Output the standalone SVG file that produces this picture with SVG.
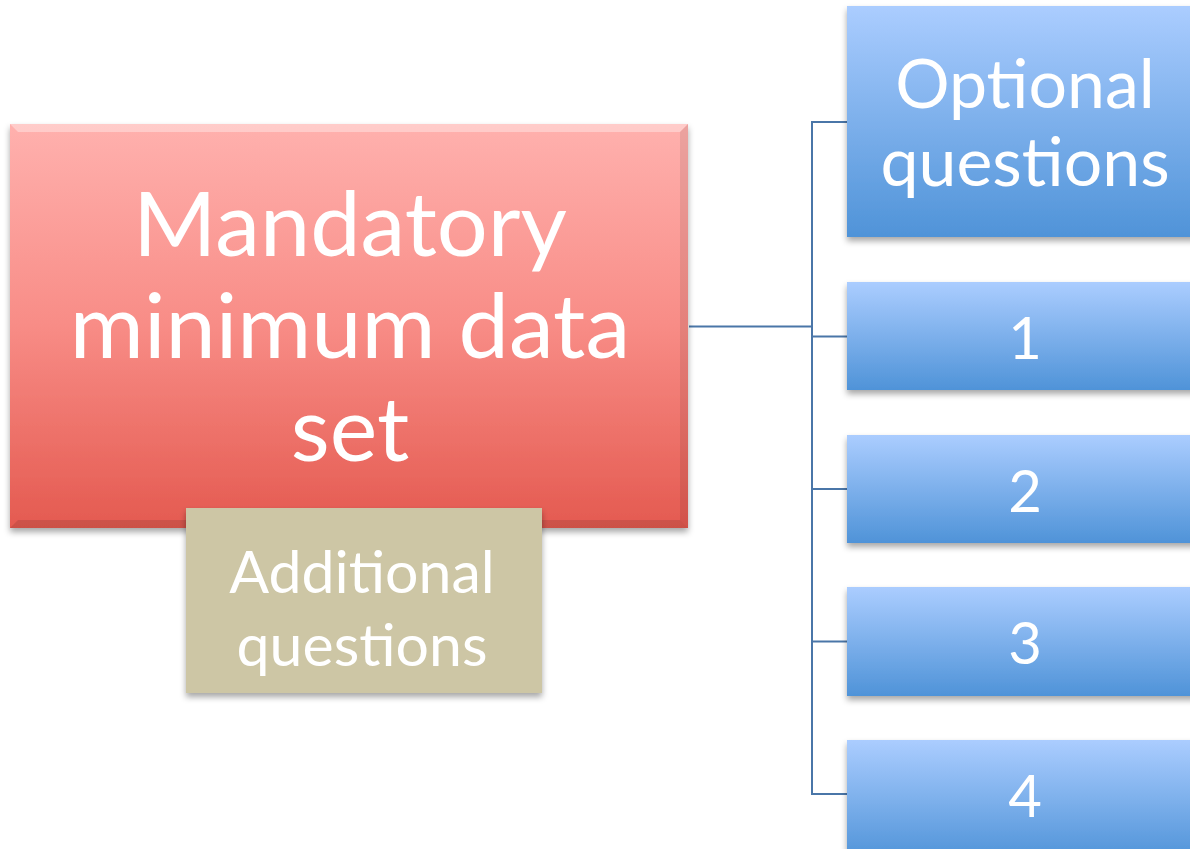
<svg xmlns="http://www.w3.org/2000/svg" width="1190" height="849" viewBox="0 0 1190 849">
  <defs>
    <linearGradient id="gRed" x1="0" y1="0" x2="0" y2="1">
      <stop offset="0" stop-color="#ffb1ae"/>
      <stop offset="0.5" stop-color="#f88c86"/>
      <stop offset="1" stop-color="#e45a50"/>
    </linearGradient>
    <linearGradient id="gBlue" x1="0" y1="0" x2="0" y2="1">
      <stop offset="0" stop-color="#abcdff"/>
      <stop offset="1" stop-color="#4f93d8"/>
    </linearGradient>
    <filter id="shadow" x="-10%" y="-10%" width="120%" height="130%">
      <feDropShadow dx="0" dy="4" stdDeviation="3" flood-color="#000" flood-opacity="0.35"/>
    </filter>
  </defs>
  <style>
    .conn { fill: none; stroke: #4a76a8; stroke-width: 2; }
    .lbl { fill: #ffffff; font-family: Lato, "Open Sans", sans-serif; text-anchor: middle; }
  </style>
  <rect width="1190" height="849" fill="#ffffff"/>

  <g id="connectors">
    <path class="conn" d="M689 326.5 H812"/>
    <path class="conn" d="M847 122 H812 V794 H847"/>
    <path class="conn" d="M812 336.5 H847"/>
    <path class="conn" d="M812 489 H847"/>
    <path class="conn" d="M812 641.5 H847"/>
  </g>

  <g id="mandatory">
    <rect x="10" y="124" width="678" height="404" fill="url(#gRed)" filter="url(#shadow)"/>
    <path d="M10 124 H688 L680 132 H18 Z" fill="#ffffff" opacity="0.35"/>
    <path d="M688 124 V528 L680 520 V132 Z" fill="#000000" opacity="0.08"/>
    <path d="M10 528 H688 L680 520 H18 Z" fill="#000000" opacity="0.1"/>
    <text class="lbl" font-size="90" x="350" y="256">Mandatory</text>
    <text class="lbl" font-size="90" x="350" y="358">minimum data</text>
    <text class="lbl" font-size="90" x="350" y="461">set</text>
  </g>

  <g id="additional">
    <rect x="186" y="508" width="356" height="185" fill="#cdc6a5" filter="url(#shadow)"/>
    <text class="lbl" font-size="59" x="362" y="593">Additional</text>
    <text class="lbl" font-size="59" x="362" y="666">questions</text>
  </g>

  <g id="optional">
    <rect x="847" y="6" width="360" height="231" fill="url(#gBlue)" filter="url(#shadow)"/>
    <text class="lbl" font-size="68" x="1025" y="108">Optional</text>
    <text class="lbl" font-size="68" x="1025" y="186">questions</text>
  </g>

  <g id="q1">
    <rect x="847" y="282" width="360" height="108" fill="url(#gBlue)" filter="url(#shadow)"/>
    <text class="lbl" font-size="58" x="1025" y="359">1</text>
  </g>
  <g id="q2">
    <rect x="847" y="435" width="360" height="108" fill="url(#gBlue)" filter="url(#shadow)"/>
    <text class="lbl" font-size="58" x="1025" y="512">2</text>
  </g>
  <g id="q3">
    <rect x="847" y="587" width="360" height="109" fill="url(#gBlue)" filter="url(#shadow)"/>
    <text class="lbl" font-size="58" x="1025" y="664">3</text>
  </g>
  <g id="q4">
    <rect x="847" y="740" width="360" height="120" fill="url(#gBlue)" filter="url(#shadow)"/>
    <text class="lbl" font-size="58" x="1025" y="817">4</text>
  </g>
</svg>
